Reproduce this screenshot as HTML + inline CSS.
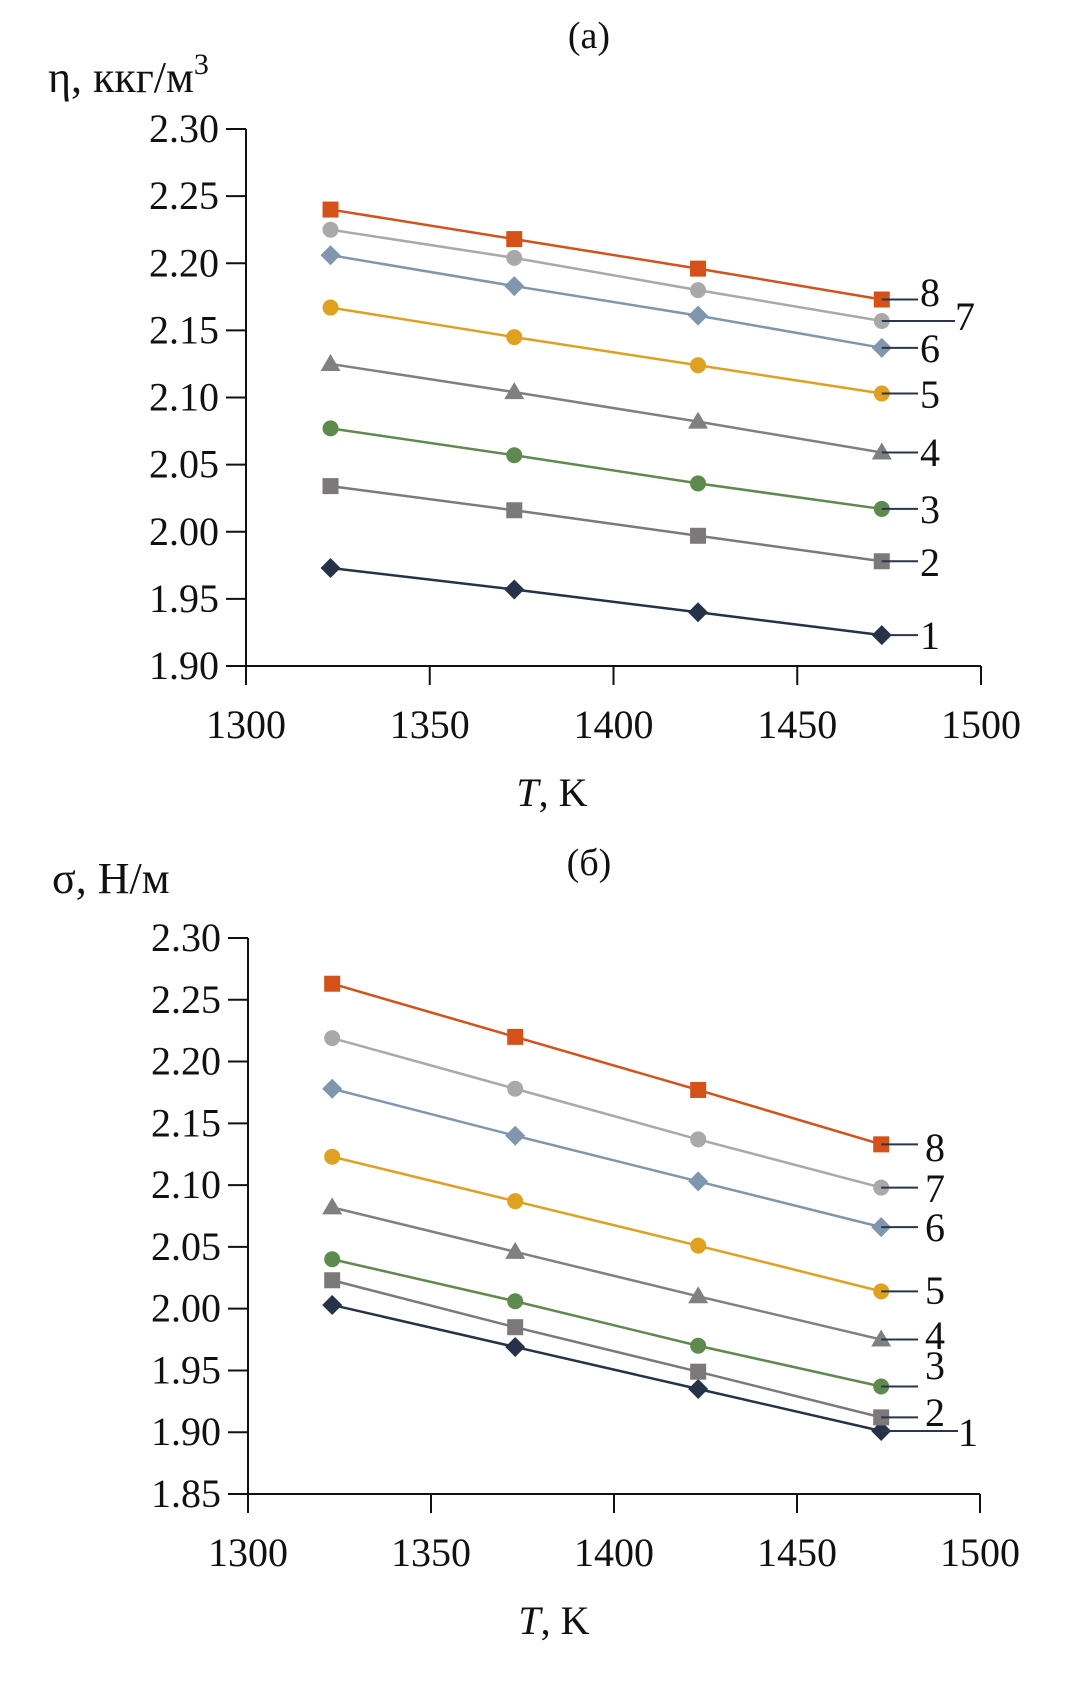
<!DOCTYPE html>
<html><head><meta charset="utf-8"><style>
html,body{margin:0;padding:0;background:#fff;}
svg{display:block;font-family:"Liberation Serif","Noto Serif CJK SC",serif;}
</style></head><body>
<svg id="fig" width="1092" height="1695" viewBox="0 0 1092 1695" xmlns="http://www.w3.org/2000/svg"></svg>
<script>
const temps = [1323, 1373, 1423, 1473];
const seriesNames = ['1','2','3','4','5','6','7','8'];
const etaS1 = [1.973, 1.957, 1.940, 1.923];
const etaS2 = [2.034, 2.016, 1.997, 1.978];
const etaS3 = [2.077, 2.057, 2.036, 2.017];
const etaS4 = [2.125, 2.104, 2.082, 2.059];
const etaS5 = [2.167, 2.145, 2.124, 2.103];
const etaS6 = [2.206, 2.183, 2.161, 2.137];
const etaS7 = [2.225, 2.204, 2.180, 2.157];
const etaS8 = [2.240, 2.218, 2.196, 2.173];
const sigS1 = [2.003, 1.969, 1.935, 1.901];
const sigS2 = [2.023, 1.985, 1.949, 1.912];
const sigS3 = [2.040, 2.006, 1.970, 1.937];
const sigS4 = [2.082, 2.046, 2.010, 1.975];
const sigS5 = [2.123, 2.087, 2.051, 2.014];
const sigS6 = [2.178, 2.140, 2.103, 2.066];
const sigS7 = [2.219, 2.178, 2.137, 2.098];
const sigS8 = [2.263, 2.220, 2.177, 2.133];
const xTicks = [1300, 1350, 1400, 1450, 1500];
const yTicksA = ['2.30','2.25','2.20','2.15','2.10','2.05','2.00','1.95','1.90'];
const yTicksB = ['2.30','2.25','2.20','2.15','2.10','2.05','2.00','1.95','1.90','1.85'];

const colors = ['#263248','#7d7879','#5f8a4e','#808080','#e0a020','#8096ae','#a9a9a9','#d4521a'];
const markers = ['diamond','square','circle','triangle','circle','diamond','circle','square'];
const NS = 'http://www.w3.org/2000/svg';
const svg = document.getElementById('fig');
function mk(tag, attrs, parent){const e=document.createElementNS(NS,tag);for(const k in attrs)e.setAttribute(k,attrs[k]);(parent||svg).appendChild(e);return e;}
function txt(s, attrs, parent){const e=mk('text',attrs,parent);e.textContent=s;return e;}

function drawChart(cfg){
  const g = mk('g',{});
  
  
  const xs = v => cfg.x0 + (v-1300)/200*(cfg.x1-cfg.x0);
  const ys = v => cfg.yTop + (cfg.yMax - v)/(cfg.yMax-cfg.yMin)*(cfg.yBot-cfg.yTop);
  const ax = mk('path',{d:`M${cfg.x0},${cfg.yTop}V${cfg.yBot}H${cfg.x1}`,fill:'none',stroke:'#111','stroke-width':2},g);
  
  
  cfg.yTicks.forEach(t=>{
    const y = ys(parseFloat(t));
    mk('line',{x1:cfg.x0-20,x2:cfg.x0,y1:y,y2:y,stroke:'#111','stroke-width':2},g);
    const l = txt(t,{x:cfg.x0-27,y:y+13,'font-size':40,'text-anchor':'end',fill:'#111'},g);
    
    
  });
  xTicks.forEach(t=>{
    const x = xs(t);
    mk('line',{x1:x,x2:x,y1:cfg.yBot,y2:cfg.yBot+19,stroke:'#111','stroke-width':2},g);
    const l = txt(String(t),{x:x,y:cfg.yBot+72,'font-size':40,'text-anchor':'middle',fill:'#111'},g);
    
    
  });
  const xt = txt('',{x:cfg.x0+306,y:cfg.yBot+140,'font-size':40,'text-anchor':'middle',fill:'#111'},g);
  xt.innerHTML = '<tspan font-style="italic">T</tspan>, K';
  
  
  cfg.series.forEach((vals,i)=>{
    const sg = mk('g',{},g);
    
    
    const pts = vals.map((v,j)=>[xs(temps[j]),ys(v)]);
    mk('polyline',{points:pts.map(p=>p.join(',')).join(' '),fill:'none',stroke:colors[i],'stroke-width':2.5},sg);
    pts.forEach(([x,y])=>{
      let m; const c=colors[i];
      if(markers[i]==='square') m=mk('rect',{x:x-8,y:y-8,width:16,height:16,fill:c},sg);
      else if(markers[i]==='circle') m=mk('circle',{cx:x,cy:y,r:8,fill:c},sg);
      else if(markers[i]==='diamond') m=mk('path',{d:`M${x},${y-10}L${x+10},${y}L${x},${y+10}L${x-10},${y}Z`,fill:c},sg);
      else m=mk('path',{d:`M${x},${y-10}L${x+10},${y+7}L${x-10},${y+7}Z`,fill:c},sg);
      
      
    });
    const last = pts[pts.length-1];
    const lab = cfg.labels[i];
    mk('line',{x1:last[0],x2:lab.lx,y1:last[1],y2:last[1],stroke:'#2a3550','stroke-width':2},sg);
    const t = txt(seriesNames[i],{x:lab.tx,y:lab.ty+14,'font-size':40,fill:'#111'},sg);
    
    
  });
}

drawChart({name:'chart-a-viscosity',x0:246,x1:981,yTop:129,yBot:666,yMax:2.30,yMin:1.90,yTicks:yTicksA,
  series:[etaS1,etaS2,etaS3,etaS4,etaS5,etaS6,etaS7,etaS8],
  labels:[{lx:918,tx:920,ty:635},{lx:918,tx:920,ty:562},{lx:918,tx:920,ty:509},{lx:918,tx:920,ty:452},
          {lx:918,tx:920,ty:394},{lx:918,tx:920,ty:348},{lx:955,tx:955,ty:316},{lx:918,tx:920,ty:292}]});
drawChart({name:'chart-b-surface-tension',x0:248,x1:980,yTop:938,yBot:1494,yMax:2.30,yMin:1.85,yTicks:yTicksB,
  series:[sigS1,sigS2,sigS3,sigS4,sigS5,sigS6,sigS7,sigS8],
  labels:[{lx:958,tx:958,ty:1432},{lx:918,tx:925,ty:1412},{lx:918,tx:925,ty:1365},{lx:918,tx:925,ty:1335},
          {lx:918,tx:925,ty:1290},{lx:918,tx:925,ty:1227},{lx:918,tx:925,ty:1188},{lx:918,tx:925,ty:1147}]});

const ta = txt('(a)',{x:589,y:48,'font-size':38,'text-anchor':'middle',fill:'#111'});


const tb = txt('(б)',{x:589,y:875,'font-size':38,'text-anchor':'middle',fill:'#111'});


const ya = txt('',{x:48,y:92,'font-size':44,fill:'#111'});
ya.innerHTML = 'η, ккг/м<tspan font-size="30" dy="-18">3</tspan>';


const yb = txt('σ, Н/м',{x:52,y:893,'font-size':44,fill:'#111'});


</script>
</body></html>
